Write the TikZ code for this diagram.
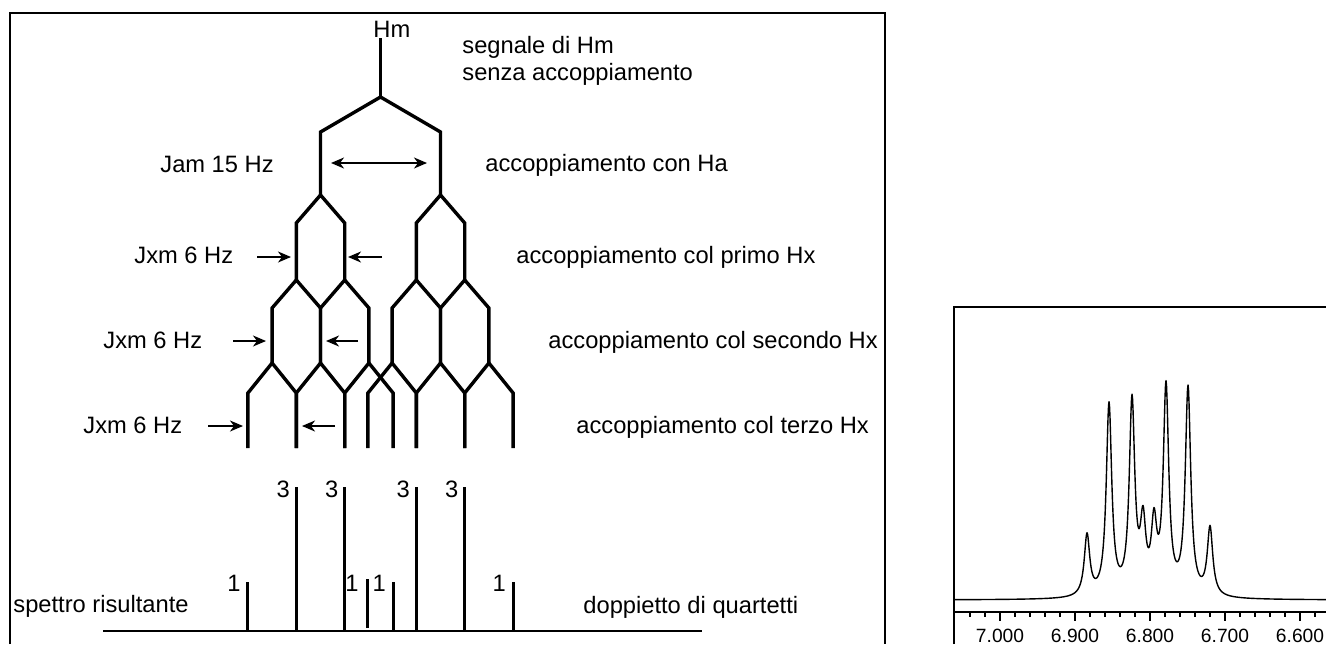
\documentclass[tikz,border=0pt]{standalone}
\usepackage{fontspec}
\setmainfont{Liberation Sans}
\usetikzlibrary{arrows.meta}
\begin{document}
\begin{tikzpicture}[x=0.5pt,y=-0.5pt,
  lbl/.style={inner sep=0pt,font=\fontsize{11.85}{13.5}\selectfont},
  axlbl/.style={inner sep=0pt,anchor=base,font=\fontsize{9.6}{11}\selectfont},
  tree/.style={line width=1.7pt,line cap=butt,line join=miter},
  stick/.style={line width=1.5pt},
  frame/.style={line width=0.9pt},
  thin/.style={line width=0.8pt},
  arr/.style={line width=0.8pt,-{Stealth[length=6.5pt,width=5.5pt,inset=2pt]}},
  darr/.style={line width=0.8pt,{Stealth[length=6.5pt,width=5.5pt,inset=2pt]}-{Stealth[length=6.5pt,width=5.5pt,inset=2pt]}},
  spec/.style={line width=0.7pt,line join=round},
  declare function={lz(\t,\p)=0.1089/((0.1*(\t-\p))^2+0.1089);
    sp(\t)=61*lz(\t,1087)+191*lz(\t,1109)+192*lz(\t,1132)+66*lz(\t,1143)+65*lz(\t,1154)+206*lz(\t,1166)+207*lz(\t,1188)+68*lz(\t,1210);}
]
\useasboundingbox (0,0) rectangle (1326,644);
% frames
\draw[frame] (10,644) -- (10,13) -- (885,13) -- (885,644);
\draw[line width=1pt] (954,644) -- (954,307) -- (1326,307);
% tree
\def\ca{320.5}\def\cb{440.5}\def\d{24.2}
\draw[tree] (380.5,38) -- (380.5,97);
\draw[tree] (\ca,195) -- (\ca,132) -- (380.5,97) -- (\cb,132) -- (\cb,195);
\foreach \c in {\ca,\cb}{
  \draw[tree] (\c-\d,280) -- (\c-\d,223) -- (\c,195) -- (\c+\d,223) -- (\c+\d,280);
  \foreach \k in {-1,1}{
    \draw[tree] (\c+\k*\d-\d,363) -- (\c+\k*\d-\d,308) -- (\c+\k*\d,280) -- (\c+\k*\d+\d,308) -- (\c+\k*\d+\d,363);
  }
  \foreach \k in {-2,0,2}{
    \draw[tree] (\c+\k*\d-\d,448) -- (\c+\k*\d-\d,393) -- (\c+\k*\d,363) -- (\c+\k*\d+\d,393) -- (\c+\k*\d+\d,448);
  }
}
% arrows
\coordinate (a1l) at (331,163); \coordinate (a1r) at (427,163);
\draw[darr] (a1l) -- (a1r);
\coordinate (a2a) at (257,257); \coordinate (a2b) at (291,257);
\coordinate (a2c) at (382,257); \coordinate (a2d) at (348,257);
\draw[arr] (a2a) -- (a2b); \draw[arr] (a2c) -- (a2d);
\coordinate (a3a) at (233,341); \coordinate (a3b) at (266,341);
\coordinate (a3c) at (358,341); \coordinate (a3d) at (326,341);
\draw[arr] (a3a) -- (a3b); \draw[arr] (a3c) -- (a3d);
\coordinate (a4a) at (208,426); \coordinate (a4b) at (243,426);
\coordinate (a4c) at (335,426); \coordinate (a4d) at (302,426);
\draw[arr] (a4a) -- (a4b); \draw[arr] (a4c) -- (a4d);
% stick spectrum
\draw[thin] (103,631) -- (702,631);
\foreach \x in {296.3,344.7,416.3,464.7}{
  \draw[stick] (\x,631) -- (\x,487);
  \node[lbl,anchor=base east] at (\x-6,497) {3};
}
\foreach \x in {247.9,393.1,513.1}{
  \draw[stick] (\x,631) -- (\x,582);
  \node[lbl,anchor=base east] at (\x-7,591) {1};
}
\draw[stick] (367.9,628) -- (367.9,579);
\node[lbl,anchor=base east] at (359,591) {1};
% labels
\node[lbl,anchor=base west] (hm) at (373,37) {Hm};
\node[lbl,anchor=base west] (s1) at (462,53) {segnale di Hm};
\node[lbl,anchor=base west] (s2) at (462,80) {senza accoppiamento};
\node[lbl,anchor=base west] (j1) at (160,172) {Jam 15 Hz};
\node[lbl,anchor=base west] (c1) at (485,171) {accoppiamento con Ha};
\node[lbl,anchor=base west] (j2) at (134,263) {Jxm 6 Hz};
\node[lbl,anchor=base west] (c2) at (516,263) {accoppiamento col primo Hx};
\node[lbl,anchor=base west] (j3) at (103,348) {Jxm 6 Hz};
\node[lbl,anchor=base west] (c3) at (548,348) {accoppiamento col secondo Hx};
\node[lbl,anchor=base west] (j4) at (83,433) {Jxm 6 Hz};
\node[lbl,anchor=base west] (c4) at (576,433) {accoppiamento col terzo Hx};
\node[lbl,anchor=base west] (sr) at (13,612) {spettro risultante};
\node[lbl,anchor=base west] (dq) at (583,613) {doppietto di quartetti};
% real spectrum inset
\draw[spec] plot[domain=955:1326,samples=743,variable=\t] (\t,{600-sp(\t)});
\draw[thin] (954,612) -- (1326,612);
\foreach \x in {970,985,...,1315}{\draw[thin] (\x,612) -- (\x,617);}
\foreach \x/\v in {1000/7.000,1075/6.900,1150/6.800,1225/6.700,1300/6.600}{
  \draw[thin] (\x,612) -- (\x,621);
  \node[axlbl] at (\x,642) {\v};
}
\end{tikzpicture}
\end{document}
